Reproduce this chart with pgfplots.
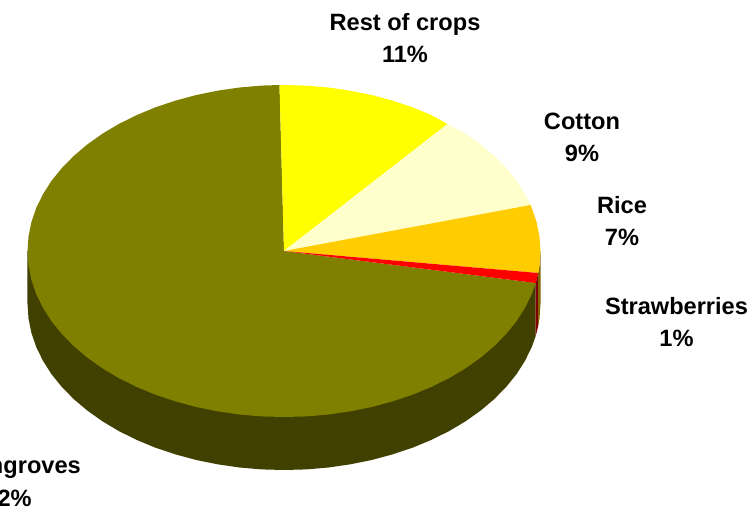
\documentclass[border=0pt]{standalone}
\usepackage{pgfplots}
\usepackage{fontspec}
\setmainfont{Liberation Sans}
\pgfplotsset{compat=1.18}
\definecolor{olv}{HTML}{808000}
\definecolor{olvd}{HTML}{404000}
\definecolor{yel}{HTML}{FFFF00}
\definecolor{crm}{HTML}{FFFFCC}
\definecolor{org}{HTML}{FFCC00}
\definecolor{orgd}{HTML}{806600}
\definecolor{rd}{HTML}{FF0000}
\definecolor{rdd}{HTML}{800000}
\tikzset{lab/.style={font=\fontsize{23.6}{26}\selectfont\bfseries,text=black,inner sep=0pt,anchor=center}}
\begin{document}
\begin{tikzpicture}
\path[use as bounding box] (0,0) rectangle (753pt,507pt);
\clip (0,0) rectangle (753pt,507pt);
\begin{axis}[at={(0,0)},anchor=south west,scale only axis,width=753pt,height=507pt,
  xmin=0,xmax=753,ymin=0,ymax=507,y dir=reverse,axis lines=none,ticks=none,clip=false]
% side walls
\addplot[fill=olvd,draw=none,mark=none] coordinates {(27.5,251)(27.5,304)(28.5,318.5)(31.4,332.8)(36.2,347)(43,360.8)(51.5,374.2)(61.9,387)(73.9,399.2)(87.5,410.7)(102.6,421.4)(119.1,431.2)(136.9,440)(155.7,447.8)(175.6,454.4)(196.3,460)(217.6,464.3)(239.5,467.5)(261.6,469.4)(284,470)(306.4,469.4)(328.5,467.5)(350.4,464.3)(371.7,460)(392.4,454.4)(412.3,447.8)(431.1,440)(448.9,431.2)(465.4,421.4)(480.5,410.7)(494.1,399.2)(506.1,387)(516.5,374.2)(525,360.8)(531.8,347)(535.7,336)(535.7,283)};
\addplot[fill=rdd,draw=none,mark=none] coordinates {(535.7,283)(538.2,273)(538.2,326)(535.7,336)};
\addplot[fill=orgd,draw=none,mark=none] coordinates {(538.2,273)(539.5,265.5)(540.5,251)(540.5,304)(539.5,318.5)(538.2,326)};
% top face
\addplot[fill=olv,draw=none,mark=none] coordinates {(284,251)(535.7,283)(531.8,294)(525,307.8)(516.5,321.2)(506.1,334)(494.1,346.2)(480.5,357.7)(465.4,368.4)(448.9,378.2)(431.1,387)(412.3,394.8)(392.4,401.4)(371.7,407)(350.4,411.3)(328.5,414.5)(306.4,416.4)(284,417)(261.6,416.4)(239.5,414.5)(217.6,411.3)(196.3,407)(175.6,401.4)(155.7,394.8)(136.9,387)(119.1,378.2)(102.6,368.4)(87.5,357.7)(73.9,346.2)(61.9,334)(51.5,321.2)(43,307.8)(36.2,294)(31.4,279.8)(28.5,265.5)(27.5,251)(28.5,236.5)(31.4,222.2)(36.2,208)(43,194.2)(51.5,180.8)(61.9,168)(73.9,155.8)(87.5,144.3)(102.6,133.6)(119.1,123.8)(136.9,115)(155.7,107.2)(175.6,100.6)(196.3,95)(217.6,90.7)(239.5,87.5)(261.6,85.6)(279.5,85)};
\addplot[fill=yel,draw=none,mark=none] coordinates {(284,251)(279.5,85)(284,85)(306.4,85.6)(328.5,87.5)(350.4,90.7)(371.7,95)(392.4,100.6)(412.3,107.2)(431.1,115)(447.5,124)};
\addplot[fill=crm,draw=none,mark=none] coordinates {(284,251)(447.5,124)(465.4,133.6)(480.5,144.3)(494.1,155.8)(506.1,168)(516.5,180.8)(525,194.2)(530.5,205)};
\addplot[fill=org,draw=none,mark=none] coordinates {(284,251)(530.5,205)(531.8,208)(536.6,222.2)(539.5,236.5)(540.5,251)(539.5,265.5)(538.2,273)};
\addplot[fill=rd,draw=none,mark=none] coordinates {(284,251)(538.2,273)(535.7,283)};
% labels
\node[lab] at (axis cs:405,24) {Rest of crops};
\node[lab] at (axis cs:405,54) {11\%};
\node[lab] at (axis cs:582,121) {Cotton};
\node[lab] at (axis cs:582,153) {9\%};
\node[lab] at (axis cs:622,205) {Rice};
\node[lab] at (axis cs:622,237) {7\%};
\node[lab] at (axis cs:676.5,306) {Strawberries};
\node[lab] at (axis cs:676.5,338) {1\%};
\node[lab] at (axis cs:18.5,468) {Mangroves};
\node[lab] at (axis cs:8,498) {72\%};
\end{axis}
\end{tikzpicture}
\end{document}
